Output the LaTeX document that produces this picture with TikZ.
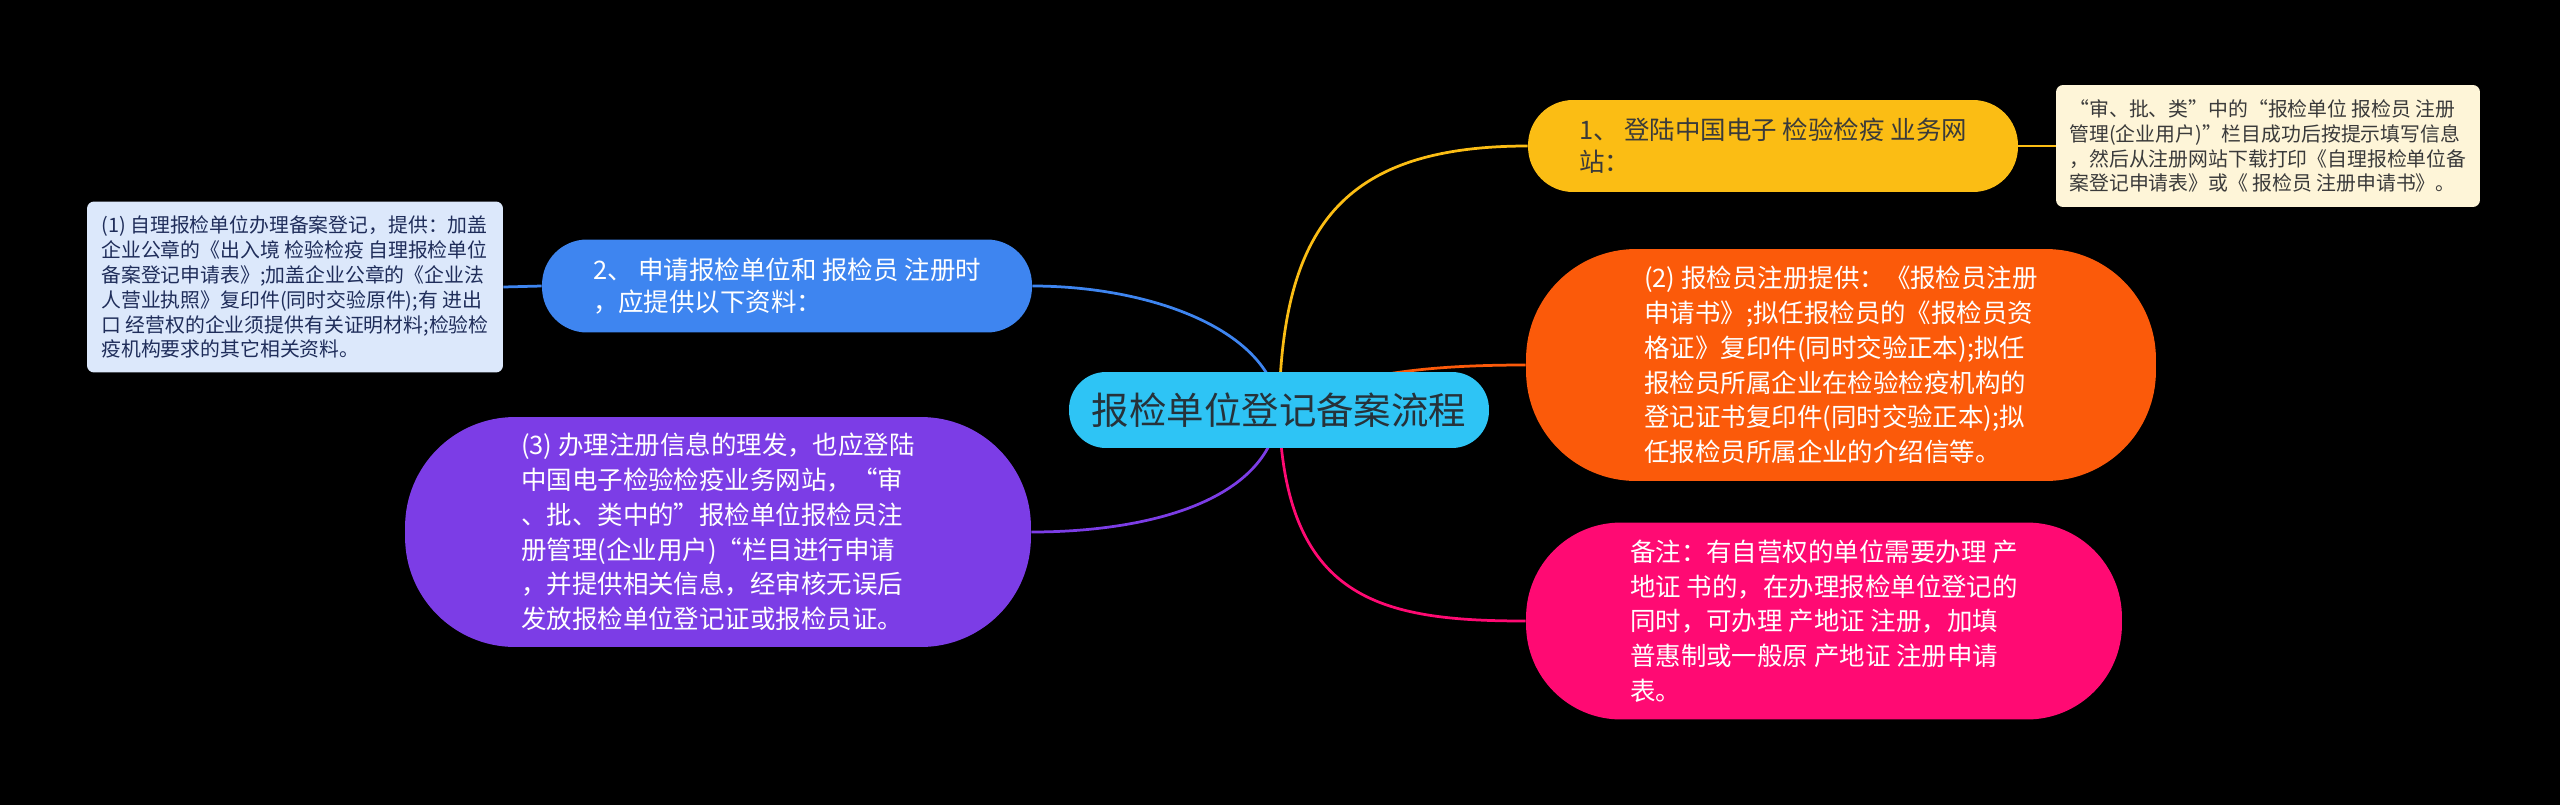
\documentclass[tikz,border=0pt]{standalone}
\usepackage{fontspec}
\setmainfont{Noto Sans CJK SC}
\usetikzlibrary{backgrounds}

\definecolor{rootblue}{HTML}{2EC4F5}
\definecolor{roottext}{HTML}{26323A}
\definecolor{regyellow}{HTML}{FBBD14}
\definecolor{darktext}{HTML}{3A3A3A}
\definecolor{cream}{HTML}{FEF5D8}
\definecolor{applyblue}{HTML}{3E85F0}
\definecolor{paleblue}{HTML}{DCE8FB}
\definecolor{navytext}{HTML}{1F2D5A}
\definecolor{renewpurple}{HTML}{7C3DE6}
\definecolor{stafforange}{HTML}{FB5A0A}
\definecolor{remarkpink}{HTML}{FF0A73}

\begin{document}
\begin{tikzpicture}[
    x=0.02cm,y=-0.02cm,
    every node/.style={align=left, inner sep=0pt, text=white},
    topic/.style={font=\fontsize{14.5}{19.8}\selectfont},
    pill/.style={rounded corners=#1},
    note/.style={rounded corners=0.14cm, font=\fontsize{11.3}{14.2}\selectfont},
    link/.style={line width=0.055cm}
]
    \useasboundingbox (0,0) rectangle (2560,805);

    % centre
    \node[fill=rootblue, pill=0.74cm, minimum width=8.4cm, minimum height=1.52cm,
          text=roottext, font=\fontsize{21.3}{25}\selectfont] (root) at (1279,410) {报检单位登记备案流程};

    % right side
    \node[topic, fill=regyellow, pill=0.9cm, minimum width=9.8cm, minimum height=1.84cm,
          text=darktext, font=\fontsize{14.5}{18.3}\selectfont] (reg) at (1773,146)
        {1、 登陆中国电子 检验检疫 业务网\\站：};
    \node[note, fill=cream, text=darktext, minimum width=8.48cm, minimum height=2.44cm] (regnote) at (2268,146)
        {“审、批、类”中的“报检单位 报检员 注册\\管理(企业用户)”栏目成功后按提示填写信息\\，然后从注册网站下载打印《自理报检单位备\\案登记申请表》或《 报检员 注册申请书》。};
    \node[topic, fill=stafforange, pill=2.2cm, minimum width=12.6cm, minimum height=4.64cm] (staff) at (1841,365)
        {(2) 报检员注册提供：《报检员注册\\申请书》;拟任报检员的《报检员资\\格证》复印件(同时交验正本);拟任\\报检员所属企业在检验检疫机构的\\登记证书复印件(同时交验正本);拟\\任报检员所属企业的介绍信等。};
    \node[topic, fill=remarkpink, pill=1.9cm, minimum width=11.92cm, minimum height=3.94cm] (remark) at (1824,621)
        {备注：有自营权的单位需要办理 产\\地证 书的，在办理报检单位登记的\\同时，可办理 产地证 注册，加填\\普惠制或一般原 产地证 注册申请\\表。};

    % left side
    \node[topic, fill=applyblue, pill=0.9cm, minimum width=9.8cm, minimum height=1.86cm,
          font=\fontsize{14.5}{18.3}\selectfont] (apply) at (787,286)
        {2、 申请报检单位和 报检员 注册时\\，应提供以下资料：};
    \node[note, fill=paleblue, text=navytext, minimum width=8.32cm, minimum height=3.42cm] (applynote) at (295,287)
        {(1) 自理报检单位办理备案登记，提供：加盖\\企业公章的《出入境 检验检疫 自理报检单位\\备案登记申请表》;加盖企业公章的《企业法\\人营业执照》复印件(同时交验原件);有 进出\\口 经营权的企业须提供有关证明材料;检验检\\疫机构要求的其它相关资料。};
    \node[topic, fill=renewpurple, pill=2.2cm, minimum width=12.52cm, minimum height=4.6cm] (renew) at (718,532)
        {(3) 办理注册信息的理发，也应登陆\\中国电子检验检疫业务网站，“审\\、批、类中的”报检单位报检员注\\册管理(企业用户)“栏目进行申请\\，并提供相关信息，经审核无误后\\发放报检单位登记证或报检员证。};

    \begin{scope}[on background layer]
        \fill[black] (0,0) rectangle (2560,805);
        \draw[link, draw=regyellow] (root.center) .. controls +(3,-180) and +(-188,0) .. (reg.west);
        \draw[link, draw=regyellow] (reg.east) -- (regnote.west);
        \draw[link, draw=stafforange] (root.center) .. controls +(61,-35) and +(-106,0) .. (staff.west);
        \draw[link, draw=remarkpink] (root.center) .. controls +(5,190) and +(-146,0) .. (remark.west);
        \draw[link, draw=applyblue] (root.center) .. controls +(-7,-80) and +(118,0) .. (apply.east);
        \draw[link, draw=applyblue] (apply.west) -- (applynote.east);
        \draw[link, draw=renewpurple] (root.center) .. controls +(-7,90) and +(119,0) .. (renew.east);
    \end{scope}
\end{tikzpicture}
\end{document}
